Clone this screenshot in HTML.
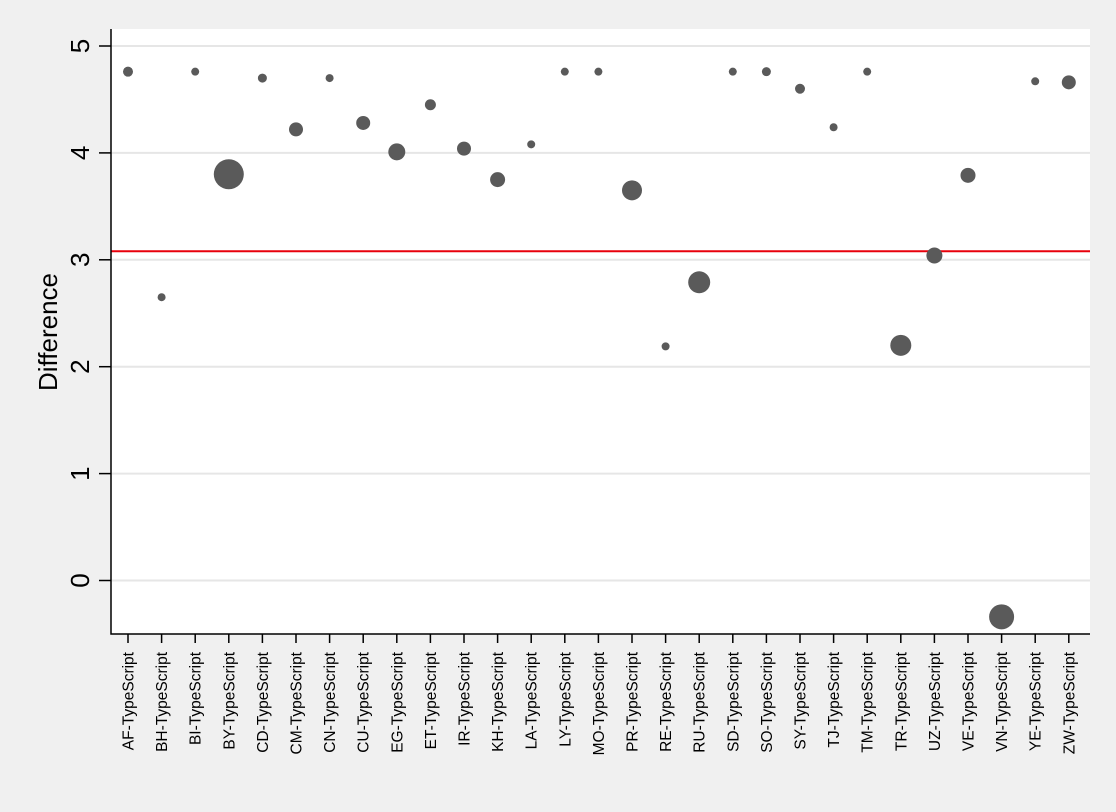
<!DOCTYPE html>
<html><head><meta charset="utf-8"><style>
body{margin:0;background:#f0f0f0;}
svg{display:block;font-family:"Liberation Sans",Arial,sans-serif;}
</style></head><body>
<svg id="chart" width="1116" height="812">
<rect x="0" y="0" width="1116" height="812" fill="#f0f0f0"/>
<rect x="111" y="29" width="979" height="605" fill="#ffffff"/>
<g id="grid"></g><g id="marks"></g><g id="axes"></g>
<text transform="translate(57,332) rotate(-90)" text-anchor="middle" font-size="26" fill="#000">Difference</text>
</svg>
<script>
const categories=["AF","BH","BI","BY","CD","CM","CN","CU","EG","ET","IR","KH","LA","LY","MO","PR","RE","RU","SD","SO","SY","TJ","TM","TR","UZ","VE","VN","YE","ZW"];
const values=[4.76,2.65,4.76,3.80,4.70,4.22,4.70,4.28,4.01,4.45,4.04,3.75,4.08,4.76,4.76,3.65,2.19,2.79,4.76,4.76,4.60,4.24,4.76,2.20,3.04,3.79,-0.34,4.67,4.66];
const sizes=[5,4,4,15,4.5,7,4,7,8.5,5.5,7,7.5,4,4,4,10,4,11,4,4.5,5,4,4,10.5,8,7.5,12.5,4,7];
const yTicks=[0,1,2,3,4,5];
const refLine=[3.08];
const NS="http://www.w3.org/2000/svg";
const y=v=>580.5-v*106.9;
const x=i=>128+i*33.6;
const grid=document.getElementById('grid'),marks=document.getElementById('marks'),axes=document.getElementById('axes');
function mk(tag,attrs,parent){const e=document.createElementNS(NS,tag);for(const k in attrs)e.setAttribute(k,attrs[k]);parent.appendChild(e);return e;}
yTicks.forEach(t=>{
  const g=mk('line',{x1:111,x2:1090,y1:y(t),y2:y(t),stroke:'#e6e6e6','stroke-width':2},grid);
  
  
  const tk=mk('line',{x1:99,x2:111,y1:y(t),y2:y(t),stroke:'#000','stroke-width':1.5},axes);
  
  
  const tx=mk('text',{transform:`translate(89,${y(t)}) rotate(-90)`,'text-anchor':'middle','font-size':26,fill:'#000'},axes);
  tx.textContent=t;
  
  
});
refLine.forEach(v=>{
  const l=mk('line',{x1:111,x2:1090,y1:y(v),y2:y(v),stroke:'#e8000b','stroke-width':2},marks);
  
  
});
values.forEach((v,i)=>{
  const c=mk('circle',{cx:x(i),cy:y(v),r:sizes[i],fill:'#5a5a5a'},marks);
  
  
});
const ax=mk('path',{d:'M111,29 V634 H1090',stroke:'#000','stroke-width':1.5,fill:'none'},axes);


categories.forEach((c,i)=>{
  const tk=mk('line',{x1:x(i),x2:x(i),y1:634,y2:643,stroke:'#000','stroke-width':1.5},axes);
  
  
  const tx=mk('text',{transform:`translate(${x(i)+5.5},652) rotate(-90)`,'text-anchor':'end','font-size':15.5,fill:'#000'},axes);
  tx.textContent=c+'-TypeScript';
  
  
});
</script>
</body></html>
